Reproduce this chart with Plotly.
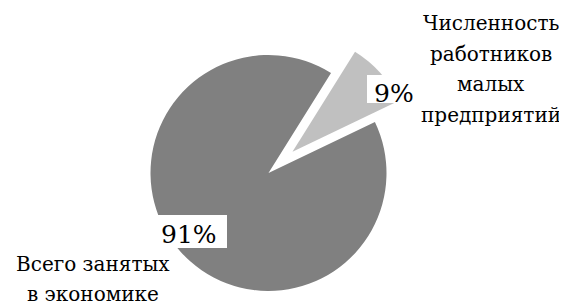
import plotly.graph_objects as go

# ---- data ----
categories = ["Численность работников малых предприятий", "Всего занятых в экономике"]
category_labels = ["Численность<br>работников<br>малых<br>предприятий", "Всего занятых<br>в экономике"]
values = [9, 91]
colors = ["#c0c0c0", "#808080"]

W, H = 567, 305
OFF = 8  # page body margin offset (figure starts 8px in from the window corner)
total = sum(values)
percents = [f"{round(v / total * 100)}%" for v in values]

FONT = "DejaVu Serif, serif"
LABEL_SIZE = 20
PCT_SIZE = 25
CLEAR = "rgba(0,0,0,0)"


def px(x):
    return (x - OFF) / W


def py(y):
    return 1 - (y - OFF) / H


def dom(cx, cy, r):
    return dict(x=[px(cx - r), px(cx + r)], y=[py(cy + r), py(cy - r)])


R = 118
CX, CY = 268.5, 173.0
# exploded slice offset (px)
OX, OY = 24.0, -21.3

common = dict(
    values=values,
    labels=categories,
    sort=False,
    direction="clockwise",
    rotation=32,
    textinfo="none",
    hoverinfo="label+percent",
    showlegend=False,
)

fig = go.Figure()
# main (non-exploded) slice
fig.add_trace(go.Pie(
    **common,
    marker=dict(colors=[CLEAR, colors[1]], line=dict(width=0)),
    domain=dom(CX, CY, R),
))
# exploded slice
fig.add_trace(go.Pie(
    **common,
    marker=dict(colors=[colors[0], CLEAR], line=dict(width=0)),
    domain=dom(CX + OX, CY + OY, R),
))

ann = []
# category labels: (center x, first line center y, line step) in window pixels
label_pos = [(491, 23, 30.67), (92.5, 264, 29.5)]
for lab, (lx, ly, step) in zip(category_labels, label_pos):
    for i, line in enumerate(lab.split("<br>")):
        ann.append(dict(text=line, x=px(lx), y=py(ly + i * step), xref="paper", yref="paper",
                        showarrow=False, xanchor="center", yanchor="middle", align="center",
                        font=dict(family=FONT, size=LABEL_SIZE, color="#000000")))

# percent labels: white label boxes + text
boxes = [(367, 75, 421, 103), (155, 215, 227, 248)]
pct_pos = [(394, 93.4), (189.2, 234.4)]
shapes = []
for (x0, y0, x1, y1) in boxes:
    shapes.append(dict(type="rect", xref="paper", yref="paper",
                       x0=px(x0), x1=px(x1), y0=py(y1), y1=py(y0),
                       fillcolor="#ffffff", line=dict(width=0), layer="above"))
for txt, (tx, ty) in zip(percents, pct_pos):
    ann.append(dict(text=txt, x=px(tx), y=py(ty), xref="paper", yref="paper",
                    showarrow=False, xanchor="center", yanchor="middle",
                    font=dict(family=FONT, size=PCT_SIZE, color="#000000")))

fig.update_layout(
    width=W, height=H,
    margin=dict(l=0, r=0, t=0, b=0),
    paper_bgcolor="#ffffff",
    plot_bgcolor="#ffffff",
    annotations=ann,
    shapes=shapes,
)

fig.write_html("out.html")
